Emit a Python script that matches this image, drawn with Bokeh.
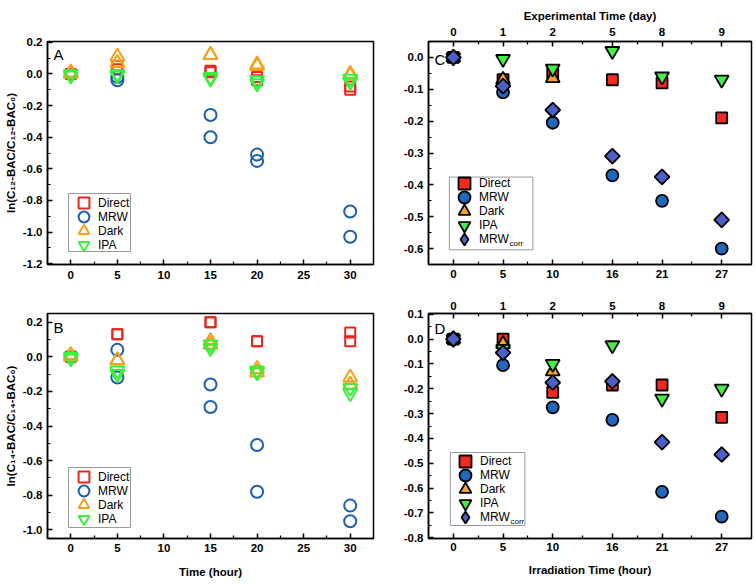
import numpy as np
from bokeh.plotting import figure
from bokeh.models import (LinearAxis, FixedTicker, PrintfTickFormatter, Legend,
                          LegendItem, Label, Range1d, BoxAnnotation)
from bokeh.layouts import column, row
from bokeh.embed import file_html
from bokeh.resources import INLINE

# ---------------- data ----------------
ab_time = [0, 0, 5, 5, 15, 15, 20, 20, 30, 30]

a_direct = [0.0, 0.0, 0.05, 0.03, 0.02, 0.01, -0.02, -0.04, -0.08, -0.10]
a_mrw = [0.0, 0.0, -0.04, -0.02, -0.26, -0.40, -0.51, -0.55, -0.87, -1.03]
a_dark = [0.01, 0.0, 0.11, 0.07, 0.12, 0.12, 0.06, 0.05, 0.0, -0.01]
a_ipa = [0.0, -0.01, 0.0, -0.01, -0.02, -0.03, -0.04, -0.06, -0.03, -0.05]

b_direct = [0.0, 0.0, 0.13, 0.13, 0.20, 0.20, 0.09, 0.09, 0.14, 0.09]
b_mrw = [0.0, 0.0, 0.04, -0.12, -0.16, -0.29, -0.51, -0.78, -0.86, -0.95]
b_dark = [0.01, 0.0, -0.02, -0.02, 0.09, 0.07, -0.07, -0.09, -0.12, -0.16]
b_ipa = [0.0, -0.01, -0.08, -0.10, 0.07, 0.05, -0.08, -0.09, -0.18, -0.21]

cd_time = [0, 5, 10, 16, 21, 27]
cd_dark_time = [0, 5, 10]
cd_day_labels = ["0", "1", "2", "5", "8", "9"]

c_direct = [0.0, -0.07, -0.05, -0.07, -0.08, -0.19]
c_mrw = [0.0, -0.11, -0.205, -0.37, -0.45, -0.60]
c_dark = [0.0, -0.07, -0.065]
c_ipa = [0.0, -0.005, -0.035, 0.02, -0.06, -0.07]
c_mrwcorr = [0.0, -0.09, -0.165, -0.31, -0.375, -0.51]

d_direct = [0.0, 0.0, -0.215, -0.185, -0.185, -0.315]
d_mrw = [0.0, -0.105, -0.275, -0.325, -0.615, -0.715]
d_dark = [0.0, -0.02, -0.13]
d_ipa = [0.0, -0.04, -0.10, -0.025, -0.24, -0.20]
d_mrwcorr = [0.0, -0.055, -0.175, -0.17, -0.415, -0.465]

ab_xticks = [0, 5, 10, 15, 20, 25, 30]
ab_xminor = [2.5, 7.5, 12.5, 17.5, 22.5, 27.5]
cd_xminor = [2.5, 7.5, 13, 18.5, 24]
a_yticks = [0.2, 0.0, -0.2, -0.4, -0.6, -0.8, -1.0, -1.2]
b_yticks = [0.2, 0.0, -0.2, -0.4, -0.6, -0.8, -1.0]
c_yticks = [0.0, -0.1, -0.2, -0.3, -0.4, -0.5, -0.6]
d_yticks = [0.1, 0.0, -0.1, -0.2, -0.3, -0.4, -0.5, -0.6, -0.7, -0.8]

series_names = ["Direct", "MRW", "Dark", "IPA", "MRW"]

# ---------------- style ----------------
FONT = "Liberation Sans"
RED_O, BLUE_O, ORANGE_O, GREEN_O = "#e8261e", "#1b5fae", "#f5a11c", "#3bef3b"
RED_F, BLUE_F, ORANGE_F, GREEN_F, SLATE_F = "#f42a22", "#2168bd", "#f6a52c", "#44f044", "#4b5fc6"
ROW_STEP = 14


def minor_between(ticks, step):
    lo, hi = min(ticks), max(ticks)
    vals = np.round(np.arange(lo - step, hi + step * 1.5, step), 3)
    return [float(v) for v in vals if not any(abs(v - t) < 1e-6 for t in ticks)]


def make_fig(w, h, bl, br, bt, bb, xr, yr):
    p = figure(width=w, height=h, x_range=Range1d(*xr), y_range=Range1d(*yr),
               output_backend="svg", toolbar_location=None,
               min_border_left=bl, min_border_right=br,
               min_border_top=bt, min_border_bottom=bb)
    p.xgrid.visible = False
    p.ygrid.visible = False
    p.outline_line_color = "black"
    p.outline_line_width = 1.5
    p.outline_line_alpha = 1.0
    p.background_fill_color = "white"
    p.border_fill_color = "white"
    return p


def style_axis(ax, ticks, minor, label_standoff=4, axis_standoff=2, fmt=None, overrides=None):
    ax.ticker = FixedTicker(ticks=ticks, minor_ticks=minor)
    if fmt:
        ax.formatter = PrintfTickFormatter(format=fmt)
    if overrides:
        ax.major_label_overrides = overrides
    ax.major_tick_in = 5
    ax.major_tick_out = 0
    ax.minor_tick_in = 3
    ax.minor_tick_out = 0
    ax.axis_line_width = 1.5
    ax.axis_line_color = "black"
    ax.major_tick_line_width = 1.5
    ax.minor_tick_line_width = 1.2
    ax.major_label_text_font = FONT
    ax.major_label_text_font_style = "bold"
    ax.major_label_text_font_size = "11.5px"
    ax.major_label_text_color = "black"
    ax.major_label_standoff = label_standoff
    ax.axis_label_text_font = FONT
    ax.axis_label_text_font_style = "bold"
    ax.axis_label_text_font_size = "11.5px"
    ax.axis_label_text_color = "black"
    ax.axis_label_standoff = axis_standoff


def px_to_data(rng, length_px, offset_px):
    return rng[0] + (rng[1] - rng[0]) * offset_px / length_px


def add_legend(p, xr, yr, fw, fh, items, box, last_center, glyph=27, corr=False):
    """box = (left, right, bottom, top) in px from frame left / frame bottom."""
    bl, br, bb, bt = box
    p.add_layout(BoxAnnotation(left=px_to_data(xr, fw, bl), right=px_to_data(xr, fw, br),
                               bottom=px_to_data(yr, fh, bb), top=px_to_data(yr, fh, bt),
                               fill_color="white", fill_alpha=1.0,
                               line_color="#9a9a9a", line_width=1, line_alpha=1.0))
    n = len(items)
    vx = bl + 15 - glyph // 2
    standoff = max(0, 30 - (vx - bl) - glyph)
    for i, (lab, r) in enumerate(items):
        center = last_center + (n - 1 - i) * ROW_STEP
        leg = Legend(items=[LegendItem(label=lab, renderers=[r])],
                     location=(vx, int(round(center - glyph / 2))), orientation="vertical",
                     glyph_width=glyph, glyph_height=glyph, label_height=12, spacing=0,
                     padding=0, margin=0, label_standoff=standoff,
                     label_text_font=FONT, label_text_font_size="12px",
                     label_text_color="black",
                     border_line_alpha=0.0, background_fill_alpha=0.0)
        p.add_layout(leg)
    if corr:
        p.add_layout(Label(x=px_to_data(xr, fw, vx + glyph + standoff + 30.5),
                           y=px_to_data(yr, fh, last_center - 3.5),
                           text="corr", text_font=FONT, text_font_size="8px",
                           text_baseline="middle", text_align="left", text_color="black"))


def panel_letter(p, text, xr, yr, fw, fh, dx, dy_top):
    p.add_layout(Label(x=px_to_data(xr, fw, dx), y=px_to_data(yr, fh, fh - dy_top),
                       text=text, text_font=FONT, text_font_size="15px",
                       text_baseline="middle", text_align="left", text_color="black"))


def open_panel(p, ys, sizes):
    markers = ["square", "circle", "triangle", "inverted_triangle"]
    colors = [RED_O, BLUE_O, ORANGE_O, GREEN_O]
    rs = []
    for y, m, c, s in zip(ys, markers, colors, sizes):
        rs.append(p.scatter(ab_time, y, marker=m, size=s, fill_color=None,
                            line_color=c, line_width=2))
    return rs


def filled_panel(p, ys):
    rs = []
    rs.append(p.scatter(cd_time, ys[0], marker="square", size=11, fill_color=RED_F,
                        line_color="black", line_width=1.8))
    rs.append(p.scatter(cd_time, ys[1], marker="circle", size=12, fill_color=BLUE_F,
                        line_color="black", line_width=1.8))
    rs.append(p.scatter(cd_dark_time, ys[2], marker="triangle", size=14, fill_color=ORANGE_F,
                        line_color="black", line_width=1.8))
    rs.append(p.scatter(cd_time, ys[3], marker="inverted_triangle", size=14, fill_color=GREEN_F,
                        line_color="black", line_width=1.8))
    rs.append(p.scatter(cd_time, ys[4], marker="square", angle=np.pi / 4, size=10.5,
                        fill_color=SLATE_F, line_color="black", line_width=1.8))
    proxy = p.scatter(cd_time, ys[4], marker="diamond", size=14, fill_color=SLATE_F,
                      line_color="black", line_width=1.8, visible=False)
    return rs[:4] + [proxy]


# ---------------- panel A ----------------
A_W, A_H, A_BL, A_BR, A_BT, A_BB = 400, 290, 47, 27, 41, 26
a_xr, a_yr = (-2.5, 32.5), (-1.205, 0.205)
a_fw, a_fh = A_W - A_BL - A_BR, A_H - A_BT - A_BB
pA = make_fig(A_W, A_H, A_BL, A_BR, A_BT, A_BB, a_xr, a_yr)
style_axis(pA.xaxis[0], ab_xticks, ab_xminor, label_standoff=6)
style_axis(pA.yaxis[0], a_yticks, minor_between(a_yticks, 0.1), label_standoff=5,
           axis_standoff=3, fmt="%.1f")
pA.yaxis[0].axis_label = "ln(C\u2081\u2082-BAC/C\u2081\u2082-BAC\u2080)"
rA = open_panel(pA, [a_direct, a_mrw, a_dark, a_ipa], [10, 12, 14, 14])
add_legend(pA, a_xr, a_yr, a_fw, a_fh, list(zip(series_names[:4], rA)),
           (21, 83, 13, 71), 20, glyph=27)
panel_letter(pA, "A", a_xr, a_yr, a_fw, a_fh, 6, 13)

# ---------------- panel B ----------------
B_W, B_H, B_BL, B_BR, B_BT, B_BB = 400, 293, 47, 27, 23, 45
b_xr, b_yr = (-2.5, 32.5), (-1.05, 0.25)
b_fw, b_fh = B_W - B_BL - B_BR, B_H - B_BT - B_BB
pB = make_fig(B_W, B_H, B_BL, B_BR, B_BT, B_BB, b_xr, b_yr)
style_axis(pB.xaxis[0], ab_xticks, ab_xminor, label_standoff=5, axis_standoff=11)
pB.xaxis[0].axis_label = "Time (hour)"
style_axis(pB.yaxis[0], b_yticks, minor_between(b_yticks, 0.1), label_standoff=5,
           axis_standoff=3, fmt="%.1f")
pB.yaxis[0].axis_label = "ln(C\u2081\u2084-BAC/C\u2081\u2084-BAC\u2080)"
rB = open_panel(pB, [b_direct, b_mrw, b_dark, b_ipa], [10, 12, 14, 14])
add_legend(pB, b_xr, b_yr, b_fw, b_fh, list(zip(series_names[:4], rB)),
           (21, 83, 11, 71), 20, glyph=27)
panel_letter(pB, "B", b_xr, b_yr, b_fw, b_fh, 6, 14)

# ---------------- panel C ----------------
C_W, C_H, C_BL, C_BR, C_BT, C_BB = 355, 290, 26, 4, 39, 24
c_xr, c_yr = (-2.5, 30.0), (-0.65, 0.05)
c_fw, c_fh = C_W - C_BL - C_BR, C_H - C_BT - C_BB
pC = make_fig(C_W, C_H, C_BL, C_BR, C_BT, C_BB, c_xr, c_yr)
style_axis(pC.xaxis[0], cd_time, cd_xminor, label_standoff=5)
style_axis(pC.yaxis[0], c_yticks, minor_between(c_yticks, 0.05), label_standoff=5, fmt="%.1f")
topC = LinearAxis(axis_label="Experimental Time (day)")
style_axis(topC, cd_time, cd_xminor, label_standoff=6, axis_standoff=3,
           overrides={t: l for t, l in zip(cd_time, cd_day_labels)})
pC.add_layout(topC, "above")
rC = filled_panel(pC, [c_direct, c_mrw, c_dark, c_ipa, c_mrwcorr])
add_legend(pC, c_xr, c_yr, c_fw, c_fh, list(zip(series_names, rC)),
           (21, 105, 15, 89), 25, glyph=30, corr=True)
panel_letter(pC, "C", c_xr, c_yr, c_fw, c_fh, 6, 18)

# ---------------- panel D ----------------
D_W, D_H, D_BL, D_BR, D_BT, D_BB = 355, 293, 26, 4, 23, 45
d_xr, d_yr = (-2.5, 30.0), (-0.803, 0.103)
d_fw, d_fh = D_W - D_BL - D_BR, D_H - D_BT - D_BB
pD = make_fig(D_W, D_H, D_BL, D_BR, D_BT, D_BB, d_xr, d_yr)
style_axis(pD.xaxis[0], cd_time, cd_xminor, label_standoff=4, axis_standoff=10)
pD.xaxis[0].axis_label = "Irradiation Time (hour)"
style_axis(pD.yaxis[0], d_yticks, minor_between(d_yticks, 0.05), label_standoff=5, fmt="%.1f")
topD = LinearAxis()
style_axis(topD, cd_time, cd_xminor, label_standoff=4,
           overrides={t: l for t, l in zip(cd_time, cd_day_labels)})
pD.add_layout(topD, "above")
rD = filled_panel(pD, [d_direct, d_mrw, d_dark, d_ipa, d_mrwcorr])
add_legend(pD, d_xr, d_yr, d_fw, d_fh, list(zip(series_names, rD)),
           (22, 97, 13, 86), 21, glyph=30, corr=True)
panel_letter(pD, "D", d_xr, d_yr, d_fw, d_fh, 6, 15)

layout = column(row(pA, pC), row(pB, pD))
open("out.html", "w").write(file_html(layout, INLINE))
